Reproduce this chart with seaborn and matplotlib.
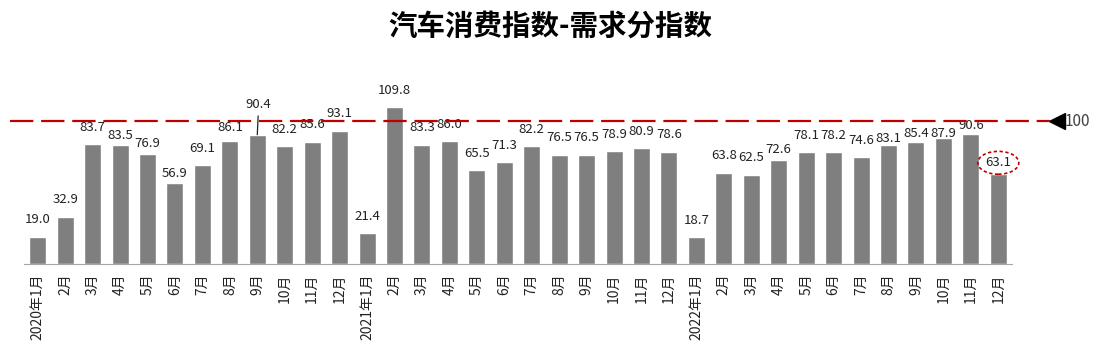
import matplotlib
matplotlib.use("Agg")
import numpy as np
import pandas as pd
import matplotlib.pyplot as plt
import seaborn as sns

# ── Data ──────────────────────────────────────────────────────────────────────
periods = [f"{y}-{m:02d}" for y in (2020, 2021, 2022) for m in range(1, 13)]
month_labels = ["2020年1月"] + [f"{m}月" for m in range(2, 13)] \
             + ["2021年1月"] + [f"{m}月" for m in range(2, 13)] \
             + ["2022年1月"] + [f"{m}月" for m in range(2, 13)]
values_2020 = [19.0, 32.9, 83.7, 83.5, 76.9, 56.9, 69.1, 86.1, 90.4, 82.2, 85.6, 93.1]
values_2021 = [21.4, 109.8, 83.3, 86.0, 65.5, 71.3, 82.2, 76.5, 76.5, 78.9, 80.9, 78.6]
values_2022 = [18.7, 63.8, 62.5, 72.6, 78.1, 78.2, 74.6, 83.1, 85.4, 87.9, 90.6, 63.1]
baseline = 100

df = pd.DataFrame({"period": periods,
                   "value": values_2020 + values_2021 + values_2022})

# ── Style ─────────────────────────────────────────────────────────────────────
BAR   = "#7F7F7F"
RED   = "#C00000"
AXIS  = "#A6A6A6"
TEXT  = "#222222"

sns.set_style("white")
plt.rcParams["font.family"] = ["Noto Sans CJK SC", "DejaVu Sans"]
plt.rcParams["axes.unicode_minus"] = False

DPI = 100
fig = plt.figure(figsize=(11.01, 3.55), dpi=DPI)
ax = fig.add_axes([24 / 1101, 91 / 355, 988 / 1101, 204 / 355])

sns.barplot(data=df, x="period", y="value", order=periods, color=BAR,
            width=0.62, saturation=1, ax=ax)

ax.set_xlim(-0.5, len(periods) - 0.5)
ax.set_ylim(0, 142.7)

# value labels (offsets in px above bar top, tuned per bar)
px = 72 / DPI
label_off = {3: 9, 4: 11, 5: 9, 7: 13, 27: 11, 31: 7, 32: 8, 33: 5, 34: 9}
for i, v in enumerate(df["value"]):
    if i == 8:
        ax.annotate(f"{v:.1f}", (i, v), xytext=(1, 30 * px), textcoords="offset points",
                    ha="center", va="center", fontsize=9.5, color=TEXT,
                    arrowprops=dict(arrowstyle="-", color=TEXT, lw=0.9,
                                    shrinkA=1, shrinkB=0))
    elif i == len(df) - 1:
        ax.annotate(f"{v:.1f}", (i, v), xytext=(0, 11 * px), textcoords="offset points",
                    ha="center", va="center", fontsize=9.5, color=TEXT,
                    bbox=dict(boxstyle="ellipse,pad=0.12", fc="none", ec=RED,
                              ls=(0, (2, 1.5)), lw=1.2))
    else:
        ax.annotate(f"{v:.1f}", (i, v), xytext=(0, label_off.get(i, 17) * px),
                    textcoords="offset points", ha="center", va="center",
                    fontsize=9.5, color=TEXT)

# 100 reference line
ref, = ax.plot([-1.0, 36.9], [baseline, baseline], color=RED, lw=1.6,
               clip_on=False, zorder=4)
ref.set_dashes((10.5, 3.5))
ax.plot([37.15], [baseline], marker="<", color="black", ms=11, clip_on=False)
ax.text(37.4, baseline, f"{baseline}", va="center", ha="left", fontsize=11,
        color="#404040", clip_on=False)

# axes cosmetics
for s in ("top", "right", "left"):
    ax.spines[s].set_visible(False)
ax.spines["bottom"].set_color(AXIS)
ax.set_yticks([])
ax.set_xticks(range(len(periods)))
ax.set_xticklabels(month_labels, rotation=90, fontsize=10, va="top", color=TEXT)
ax.set_xticks(np.arange(-0.5, len(periods), 1), minor=True)
ax.tick_params(axis="x", which="major", length=0, pad=7)
ax.tick_params(axis="x", which="minor", length=3.5, color=AXIS, direction="out")
ax.set_xlabel("")
ax.set_ylabel("")

fig.suptitle("汽车消费指数-需求分指数", fontsize=20.5, fontweight="bold",
             color="black", y=0.965)

fig.savefig("out.png", dpi=DPI, facecolor="white")
